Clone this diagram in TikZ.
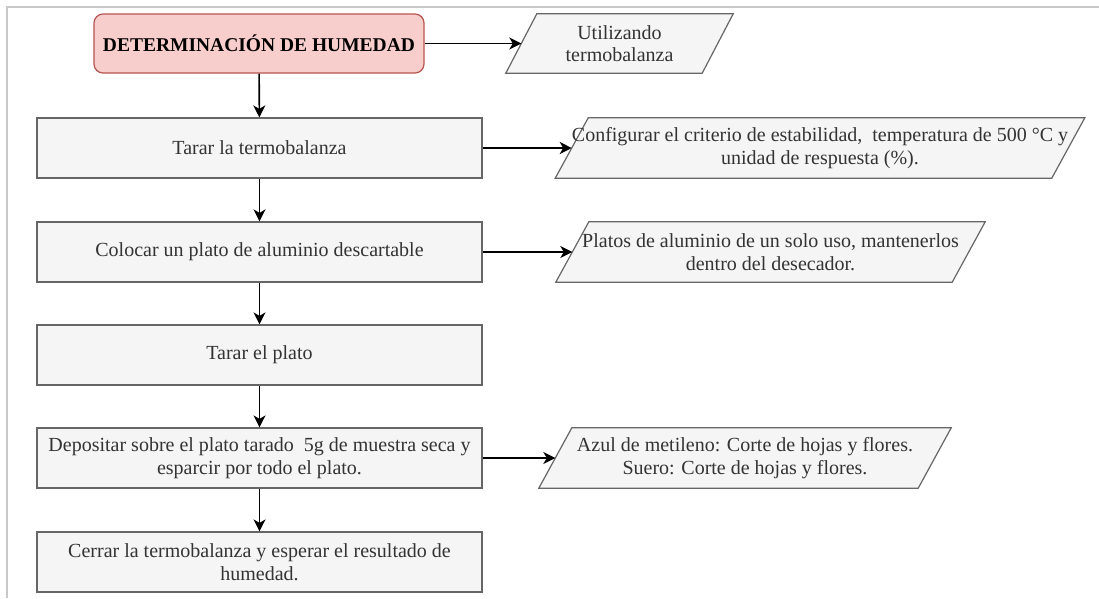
\documentclass[tikz,border=0pt]{standalone}
\usepackage{fontspec}
\setmainfont{Liberation Serif}
\usetikzlibrary{arrows.meta,backgrounds}
\definecolor{boxfill}{HTML}{F5F5F5}
\definecolor{boxline}{HTML}{666666}
\definecolor{boxtext}{HTML}{333333}
\definecolor{redfill}{HTML}{F8CECC}
\definecolor{redline}{HTML}{B85450}
\definecolor{framec}{HTML}{C8C8C8}
\tikzset{
  stepbox/.style={rectangle, draw=boxline, fill=boxfill, line width=1.2pt, text=boxtext,
    minimum width=445pt, minimum height=60pt, inner sep=2pt, align=center,
    font=\fontsize{20}{22.5}\selectfont},
  titlebox/.style={rectangle, rounded corners=9pt, draw=redline, fill=redfill, line width=1.2pt,
    minimum width=330pt, minimum height=59pt, inner sep=2pt, align=center,
    font=\fontsize{19.5}{22}\selectfont\bfseries},
  para/.style={rectangle, text=boxtext, minimum height=60pt, inner sep=0pt, align=center,
    font=\fontsize{20}{22.5}\selectfont},
  parashape/.style={draw=boxline, fill=boxfill, line width=1.2pt, line join=miter},
  conn/.style={draw=black, line width=1.6pt, -{Stealth[length=12pt,width=12pt,inset=3.5pt]}},
}
\newcommand{\paradraw}[2]{%
  \draw[parashape] ([xshift=#2]#1.north west) -- ([xshift=#2]#1.north east)
    -- ([xshift=-#2]#1.south east) -- ([xshift=-#2]#1.south west) -- cycle;}
\begin{document}
\begin{tikzpicture}[x=1pt,y=-1pt]
\useasboundingbox (0,0) rectangle (1099,598);
\draw[framec, line width=1.5pt] (7,598) -- (7,7) -- (1099,7);

\node[titlebox] (title) at (259,43.5) {DETERMINACIÓN DE HUMEDAD};
\node[para, minimum width=196pt, minimum height=59pt] (util) at (619.5,43.5) {Utilizando\\termobalanza};

\node[stepbox] (s1) at (259.5,148) {Tarar la termobalanza};
\node[para, minimum width=496pt] (conf) at (820,148) {Configurar el criterio de estabilidad,~~temperatura de 500 °C y\\unidad de respuesta (\%).};

\node[stepbox] (s2) at (259.5,252) {Colocar un plato de aluminio descartable};
\node[para, minimum width=396pt] (plat) at (770.5,252) {Platos de aluminio de un solo uso, mantenerlos\\dentro del desecador.};

\node[stepbox] (s3) at (259.5,355) {Tarar el plato};

\node[stepbox] (s4) at (259.5,458) {Depositar sobre el plato tarado~~5g de muestra seca y\\esparcir por todo el plato.};
\node[para, minimum width=379pt] (azul) at (745,458) {Azul de metileno: Corte de hojas y flores.\\Suero: Corte de hojas y flores.};

\node[stepbox] (s5) at (259.5,562) {Cerrar la termobalanza y esperar el resultado de\\humedad.};

\begin{scope}[on background layer]
\paradraw{util}{15.5pt}
\paradraw{conf}{16.5pt}
\paradraw{plat}{16.5pt}
\paradraw{azul}{16.5pt}
\end{scope}

\draw[conn] (title) -- (util.west);
\draw[conn] (title) -- (s1);
\draw[conn] (s1) -- (conf.west);
\draw[conn] (s1) -- (s2);
\draw[conn] (s2) -- (plat.west);
\draw[conn] (s2) -- (s3);
\draw[conn] (s3) -- (s4);
\draw[conn] (s4) -- (azul.west);
\draw[conn] (s4) -- (s5);
\end{tikzpicture}
\end{document}
